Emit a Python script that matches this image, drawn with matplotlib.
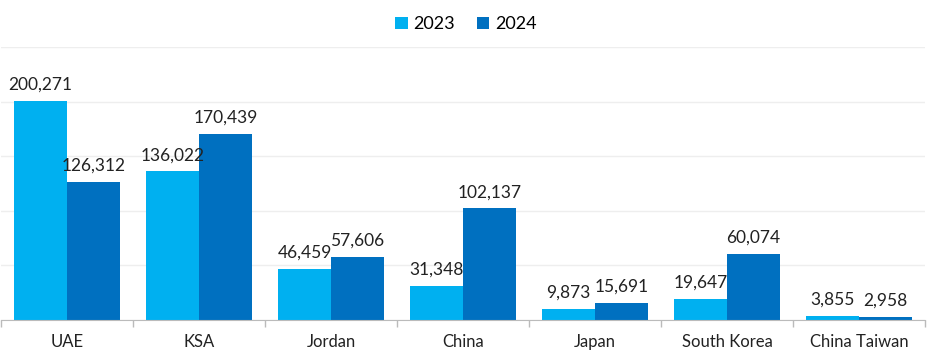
import numpy as np
import matplotlib.pyplot as plt
from matplotlib.ticker import FixedLocator

# === Daten ===
countries = ["UAE", "KSA", "Jordan", "China", "Japan", "South Korea", "China Taiwan"]
values_2023 = [200271, 136022, 46459, 31348, 9873, 19647, 3855]
values_2024 = [126312, 170439, 57606, 102137, 15691, 60074, 2958]

COLOR_2023 = "#00B0F0"
COLOR_2024 = "#0070C0"

plt.rcParams["font.family"] = ["Lato", "DejaVu Sans"]

fig = plt.figure(figsize=(9.32, 3.63), dpi=100)
ax = fig.add_axes([1 / 932, 43 / 363, 924 / 932, 273 / 363])

x = np.arange(len(countries))
w = 0.4
b1 = ax.bar(x - w / 2, values_2023, w, color=COLOR_2023, label="2023")
b2 = ax.bar(x + w / 2, values_2024, w, color=COLOR_2024, label="2024")

for bars in (b1, b2):
    ax.bar_label(bars, labels=[f"{v:,}" for v in bars.datavalues],
                 padding=6, fontsize=12.5, color="#222222")

ax.set_xlim(-0.5, len(countries) - 0.5)
ax.set_ylim(0, 250000)
ax.set_yticks(np.arange(0, 250001, 50000))
ax.yaxis.grid(True, color="#eeeeee", linewidth=1)
ax.set_axisbelow(True)
ax.tick_params(axis="y", left=False, labelleft=False)

ax.set_xticks(x)
ax.set_xticklabels(countries, fontsize=12, color="#222222")
ax.tick_params(axis="x", which="major", length=0, pad=10)
ax.xaxis.set_minor_locator(FixedLocator(np.arange(-0.5, len(countries), 1)))
ax.tick_params(axis="x", which="minor", length=5, color="#bbbbbb", width=1)

for s in ("top", "right", "left"):
    ax.spines[s].set_visible(False)
ax.spines["bottom"].set_color("#bbbbbb")

fig.legend(handles=[b1, b2], loc="upper center", bbox_to_anchor=(0.5, 1.0),
           ncol=2, frameon=False, fontsize=13, handlelength=0.7, handleheight=0.7,
           handletextpad=0.3, columnspacing=1.2)

plt.savefig("out.png", dpi=100)
plt.close()
